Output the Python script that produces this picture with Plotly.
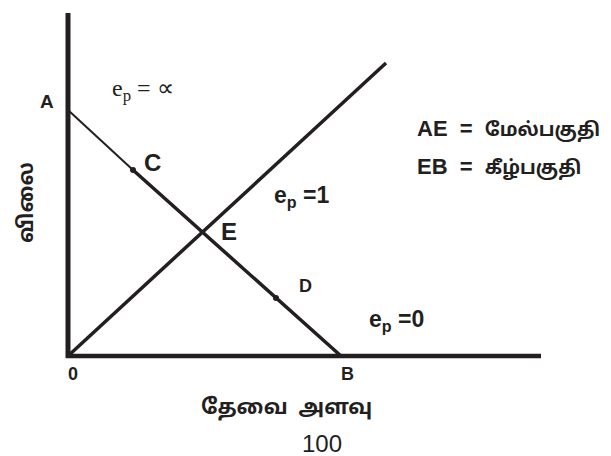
import plotly.graph_objects as go

INK = "#231f20"

# Diagram geometry (units: distance from origin O)
axis_x_end = 473
axis_y_end = 343
point_A = (0, 246)
point_B = (273, 0)
point_C = (65, 186)
point_D = (208, 58)
diag_end = (318, 293)

fig = go.Figure()

# axes
fig.add_trace(go.Scatter(x=[-2, axis_x_end], y=[0, 0], mode="lines",
                         line=dict(color=INK, width=4.5), hoverinfo="skip"))
fig.add_trace(go.Scatter(x=[0, 0], y=[-2, axis_y_end], mode="lines",
                         line=dict(color=INK, width=5), hoverinfo="skip"))
# demand line A-C (thin) and C-B (thicker)
fig.add_trace(go.Scatter(x=[point_A[0], point_C[0]], y=[point_A[1], point_C[1]], mode="lines",
                         line=dict(color=INK, width=2), hoverinfo="skip"))
fig.add_trace(go.Scatter(x=[point_C[0], point_B[0]], y=[point_C[1], point_B[1]], mode="lines",
                         line=dict(color=INK, width=3.5), hoverinfo="skip"))
# 45 degree style line
fig.add_trace(go.Scatter(x=[0, diag_end[0]], y=[0, diag_end[1]], mode="lines",
                         line=dict(color=INK, width=3.5), hoverinfo="skip"))
# points C, D
fig.add_trace(go.Scatter(x=[point_C[0], point_D[0]], y=[point_C[1], point_D[1]], mode="markers",
                         marker=dict(color=INK, size=6), hoverinfo="skip"))

sans = "Liberation Sans, Arial, sans-serif"
tamil = "Noto Sans Tamil, Latha, Lohit Tamil, Noto Sans, sans-serif"

def ann(x, y, text, size, family=sans, bold=True, angle=0):
    t = f"<b>{text}</b>" if bold else text
    fig.add_annotation(x=x, y=y, text=t, showarrow=False, textangle=angle,
                       font=dict(family=family, size=size, color=INK),
                       xanchor="center", yanchor="middle")

ann(-21, 255, "A", 19)
ann(75, 266, "e<sub>p</sub> = ∝", 24, family="Liberation Serif, Times New Roman, serif", bold=False)
ann(84, 194, "C", 24)
ann(161, 125, "E", 24)
ann(233, 160, "e<sub>p</sub> =1", 23)
ann(237, 70, "D", 18)
ann(328, 36, "e<sub>p</sub> =0", 23)
ann(5, -18, "0", 18)
ann(279, -18, "B", 18)
ann(218, -52, "தேவை  அளவு", 21, family=tamil)
ann(254, -87, "100", 24, bold=False)
ann(-40, 153, "விலை", 21, family=tamil, angle=-90)

legend_lines = ["AE", "EB"]
legend_parts = ["மேல்பகுதி", "கீழ்பகுதி"]
for i, (a, b) in enumerate(zip(legend_lines, legend_parts)):
    fig.add_annotation(
        x=347, y=227 - 38 * i,
        text=f"<b>{a}  =  <span style='font-size:19px'>{b}</span></b>",
        showarrow=False, xanchor="left", yanchor="middle",
        font=dict(family=sans + ", " + tamil, size=22, color=INK))

fig.update_layout(
    width=611, height=456,
    margin=dict(l=0, r=0, t=0, b=0),
    paper_bgcolor="white", plot_bgcolor="white",
    showlegend=False,
    xaxis=dict(range=[-60, 551], visible=False, fixedrange=True),
    yaxis=dict(range=[-108, 348], visible=False, fixedrange=True),
)

fig.write_html("out.html")
